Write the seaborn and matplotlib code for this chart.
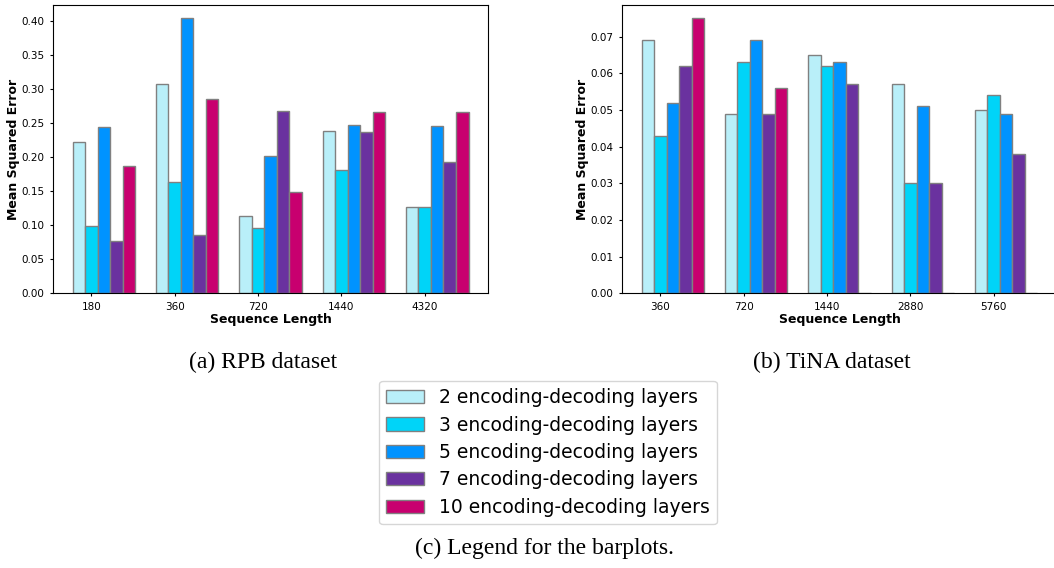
import numpy as np
import pandas as pd
import matplotlib
matplotlib.use("Agg")
import matplotlib.pyplot as plt
import seaborn as sns

# data
layers = ["2 encoding-decoding layers", "3 encoding-decoding layers",
          "5 encoding-decoding layers", "7 encoding-decoding layers",
          "10 encoding-decoding layers"]
colors = ["#B9EFF9", "#00D4F8", "#0093FF", "#6A329F", "#C8006F"]

rpb_len = ["180", "360", "720", "1440", "4320"]
rpb_2 = [0.222, 0.308, 0.114, 0.239, 0.127]
rpb_3 = [0.099, 0.163, 0.096, 0.181, 0.127]
rpb_5 = [0.244, 0.404, 0.202, 0.248, 0.246]
rpb_7 = [0.077, 0.085, 0.268, 0.237, 0.193]
rpb_10 = [0.187, 0.285, 0.149, 0.266, 0.266]

tina_len = ["360", "720", "1440", "2880", "5760"]
tina_2 = [0.069, 0.049, 0.065, 0.057, 0.050]
tina_3 = [0.043, 0.063, 0.062, 0.030, 0.054]
tina_5 = [0.052, 0.069, 0.063, 0.051, 0.049]
tina_7 = [0.062, 0.049, 0.057, 0.030, 0.038]
tina_10 = [0.075, 0.056, 0.0, 0.0, 0.0]  # no run for the long ones


def long_df(lengths, series):
    rows = []
    for lay, vals in zip(layers, series):
        for l, v in zip(lengths, vals):
            rows.append({"Sequence Length": l, "layers": lay, "mse": v})
    return pd.DataFrame(rows)


rpb = long_df(rpb_len, [rpb_2, rpb_3, rpb_5, rpb_7, rpb_10])
tina = long_df(tina_len, [tina_2, tina_3, tina_5, tina_7, tina_10])

W, H = 1054, 568
fig = plt.figure(figsize=(W / 100, H / 100), dpi=100)
ax1 = fig.add_axes([52.7 / W, 1 - 293.3 / H, 435.6 / W, 288.6 / H])
ax2 = fig.add_axes([621.7 / W, 1 - 293.3 / H, 435.6 / W, 288.6 / H])

bw = 0.75
for ax, df, lens in [(ax1, rpb, rpb_len), (ax2, tina, tina_len)]:
    sns.barplot(data=df, x="Sequence Length", y="mse", hue="layers",
                hue_order=layers, order=lens, palette=colors, width=bw,
                saturation=1, edgecolor="grey", linewidth=1, ax=ax,
                errorbar=None)
    ax.get_legend().remove()
    step = bw / len(layers)
    # ticks sit under the second bar of each group
    ax.set_xticks(np.arange(len(lens)) - step)
    ax.set_xticklabels(lens)
    pad = (len(lens) - 1 + bw) * 0.05
    ax.set_xlim(-bw / 2 - pad, len(lens) - 1 + bw / 2 + pad)
    ax.set_ylim(0, df["mse"].max() * 1.05)
    ax.tick_params(labelsize=7.5, length=2.5)
    ax.set_xlabel("Sequence Length", fontsize=9, fontweight="bold", labelpad=1)
    ax.set_ylabel("Mean Squared Error", fontsize=9, fontweight="bold", labelpad=1)

ax1.set_yticks(np.arange(0, 0.41, 0.05))
ax1.yaxis.set_major_formatter(matplotlib.ticker.FormatStrFormatter("%.2f"))
ax2.set_yticks(np.arange(0, 0.071, 0.01))
ax2.yaxis.set_major_formatter(matplotlib.ticker.FormatStrFormatter("%.2f"))

serif = ["Liberation Serif", "DejaVu Serif"]
fig.text(263 / W, 1 - 362 / H, "(a) RPB dataset", ha="center", va="center",
         fontsize=17, family=serif)
fig.text(832 / W, 1 - 362 / H, "(b) TiNA dataset", ha="center", va="center",
         fontsize=17, family=serif)
fig.text(544 / W, 1 - 548 / H, "(c) Legend for the barplots.", ha="center",
         va="center", fontsize=17, family=serif)

handles, labels = ax1.get_legend_handles_labels()
fig.legend(handles, labels, loc="center", bbox_to_anchor=(548 / W, 1 - 452.5 / H),
           fontsize=13.5, labelspacing=0.45)

fig.savefig("out.png", dpi=100)
